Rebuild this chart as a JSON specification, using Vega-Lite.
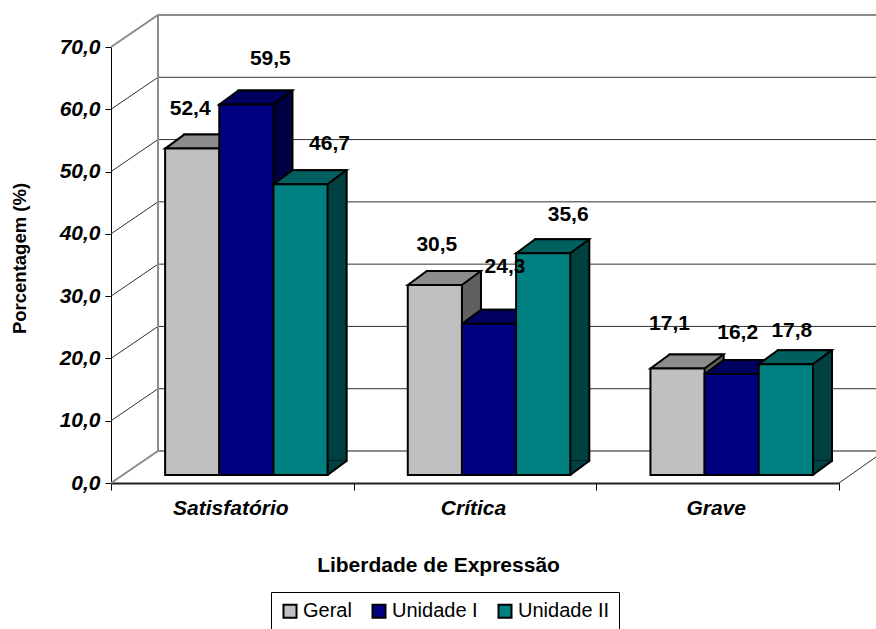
{
"$schema":"https://vega.github.io/schema/vega-lite/v6.json",
"width":728,"height":436,
"autosize":{"type":"none"},
"padding":{"left":111,"top":47,"right":37,"bottom":146},
"background":"white",
"config":{"view":{"stroke":null},"font":"Liberation Sans","locale":{"number":{"decimal":",","thousands":".","grouping":[3],"currency":["R$",""]}}},
"datasets":{
"bars":[
{"c":"Satisfatório","s":"Geral","v":52.4},
{"c":"Satisfatório","s":"Unidade I","v":59.5},
{"c":"Satisfatório","s":"Unidade II","v":46.7},
{"c":"Crítica","s":"Geral","v":30.5},
{"c":"Crítica","s":"Unidade I","v":24.3},
{"c":"Crítica","s":"Unidade II","v":35.6},
{"c":"Grave","s":"Geral","v":17.1},
{"c":"Grave","s":"Unidade I","v":16.2},
{"c":"Grave","s":"Unidade II","v":17.8}],
"grid":[{"t":10},{"t":20},{"t":30},{"t":40},{"t":50},{"t":60}],
"frame":[{"t":0},{"t":70}]
},
"resolve":{"scale":{"fill":"independent","xOffset":"independent"}},
"layer":[
{"data":{"name":"grid"},"mark":{"type":"point","shape":"M0,0L47,-32L765,-32","size":4,"filled":false,"opacity":1,"stroke":"#303030","strokeWidth":1},
"encoding":{"x":{"datum":"Satisfatório","bandPosition":0,"scale":{"domain":["Satisfatório","Crítica","Grave"],"paddingInner":0,"paddingOuter":0},
"axis":{"title":"Liberdade de Expressão","titleFontSize":21,"titleFontWeight":"bold","titleX":327,"titleY":82,"titleAnchor":"middle","titleBaseline":"middle","labelFontSize":21,"labelFontWeight":"bold","labelFontStyle":"italic","labelColor":"black","labelAngle":0,"labelPadding":7,"labelOffset":-2,"tickBand":"extent","tickSize":7,"tickColor":"black","domainColor":"#202020","domainWidth":2,"tickWidth":1,"titleColor":"black"}},
"y":{"field":"t","type":"quantitative","scale":{"domain":[0,70],"nice":false},
"axis":{"values":[0,10,20,30,40,50,60,70],"format":".1f","title":"Porcentagem (%)","grid":false,"titleFontSize":18.5,"titleFontWeight":"bold","titleX":-82,"titleY":211,"titleColor":"black","labelFontSize":21,"labelFontWeight":"bold","labelFontStyle":"italic","labelColor":"black","labelPadding":5,"tickSize":6,"tickColor":"black","domainColor":"black"}}}},
{"data":{"name":"frame"},"mark":{"type":"point","shape":"M0,0L47,-32L765,-32","size":4,"filled":false,"opacity":1,"stroke":"#8c8c8c","strokeWidth":2},
"encoding":{"x":{"datum":"Satisfatório","bandPosition":0},"y":{"field":"t","type":"quantitative"}}},
{"data":{"values":[{"t":0}]},"mark":{"type":"point","shape":"M47,-32L47,-468","size":4,"filled":false,"opacity":1,"stroke":"#8c8c8c","strokeWidth":2},
"encoding":{"x":{"datum":"Satisfatório","bandPosition":0},"y":{"field":"t","type":"quantitative"}}},
{"data":{"values":[{"t":0}]},"mark":{"type":"point","shape":"M0,0L37,-26","size":4,"filled":false,"opacity":1,"stroke":"#303030","strokeWidth":1},
"encoding":{"x":{"datum":"Grave","bandPosition":1},"y":{"field":"t","type":"quantitative"}}},
{"data":{"name":"bars"},"mark":{"type":"bar","yOffset":-22,"y2Offset":-22,"stroke":"black","strokeWidth":2},
"encoding":{"x":{"field":"c","type":"nominal","sort":null},"xOffset":{"field":"s","type":"nominal","scale":{"type":"band","domain":["Geral","Unidade I","Unidade II"],"paddingInner":0,"paddingOuter":0.74,"align":0.9125}},"y":{"field":"v","type":"quantitative"},
"fill":{"field":"s","type":"nominal","legend":null,"scale":{"domain":["Geral","Unidade I","Unidade II"],"range":["#606060","#000040","#004040"]}}}},
{"data":{"name":"bars"},"mark":{"type":"point","shape":"M27,0L27,-14L46,-14Z","size":4,"filled":true,"opacity":1,"yOffset":-8,"strokeWidth":1},
"encoding":{"x":{"field":"c","type":"nominal","sort":null},"xOffset":{"field":"s","type":"nominal","scale":{"type":"band","domain":["Geral","Unidade I","Unidade II"],"paddingInner":0,"paddingOuter":0.74,"align":0.675}},"y":{"datum":0,"type":"quantitative"},
"fill":{"field":"s","type":"nominal","legend":null,"scale":{"domain":["Geral","Unidade I","Unidade II"],"range":["#606060","#000040","#004040"]}},
"stroke":{"field":"s","type":"nominal","legend":null,"scale":{"domain":["Geral","Unidade I","Unidade II"],"range":["#606060","#000040","#004040"]}}}},
{"data":{"name":"bars"},"mark":{"type":"point","shape":"M27,0L46,-14","size":4,"filled":false,"opacity":1,"yOffset":-8,"stroke":"black","strokeWidth":2},
"encoding":{"x":{"field":"c","type":"nominal","sort":null},"xOffset":{"field":"s","type":"nominal","scale":{"type":"band","domain":["Geral","Unidade I","Unidade II"],"paddingInner":0,"paddingOuter":0.74,"align":0.675}},"y":{"datum":0,"type":"quantitative"}}},
{"data":{"name":"bars"},"mark":{"type":"point","shape":"M-27,0L27,0L46,-14L-8,-14Z","size":4,"filled":true,"opacity":1,"yOffset":-8,"stroke":"black","strokeWidth":2},
"encoding":{"x":{"field":"c","type":"nominal","sort":null},"xOffset":{"field":"s","type":"nominal","scale":{"type":"band","domain":["Geral","Unidade I","Unidade II"],"paddingInner":0,"paddingOuter":0.74,"align":0.675}},"y":{"field":"v","type":"quantitative"},
"fill":{"field":"s","type":"nominal","legend":null,"scale":{"domain":["Geral","Unidade I","Unidade II"],"range":["#8c8c8c","#000060","#006060"]}}}},
{"data":{"name":"bars"},"mark":{"type":"bar","yOffset":-8,"y2Offset":-8,"stroke":"black","strokeWidth":2},
"encoding":{"x":{"field":"c","type":"nominal","sort":null},"xOffset":{"field":"s","type":"nominal","scale":{"type":"band","domain":["Geral","Unidade I","Unidade II"],"paddingInner":0,"paddingOuter":0.74,"align":0.675}},"y":{"field":"v","type":"quantitative"},
"fill":{"field":"s","type":"nominal","scale":{"domain":["Geral","Unidade I","Unidade II"],"range":["#c0c0c0","#000080","#008080"]},
"legend":{"title":null,"orient":"none","direction":"horizontal","legendX":160,"legendY":545,"strokeColor":"black","fillColor":"white","padding":9,"symbolType":"square","symbolSize":169,"symbolStrokeColor":"black","symbolStrokeWidth":2,"labelFontSize":20,"labelColor":"black","labelFont":"Liberation Sans","columnPadding":16,"labelOffset":3,"labelLimit":200}}}},
{"data":{"name":"bars"},"transform":[{"filter":"datum.c=='Satisfatório'&&datum.s=='Geral'"}],"mark":{"type":"text","font":"Liberation Sans","fontWeight":"bold","fontSize":21,"baseline":"middle","color":"black","dx":-2,"yOffset":-48},"encoding":{"x":{"field":"c","type":"nominal","sort":null},"xOffset":{"field":"s","type":"nominal","scale":{"type":"band","domain":["Geral","Unidade I","Unidade II"],"paddingInner":0,"paddingOuter":0.74,"align":0.675}},"y":{"field":"v","type":"quantitative"},"text":{"field":"v","type":"quantitative","format":".1f"}}},
{"data":{"name":"bars"},"transform":[{"filter":"datum.c=='Satisfatório'&&datum.s=='Unidade I'"}],"mark":{"type":"text","font":"Liberation Sans","fontWeight":"bold","fontSize":21,"baseline":"middle","color":"black","dx":24,"yOffset":-53},"encoding":{"x":{"field":"c","type":"nominal","sort":null},"xOffset":{"field":"s","type":"nominal","scale":{"type":"band","domain":["Geral","Unidade I","Unidade II"],"paddingInner":0,"paddingOuter":0.74,"align":0.675}},"y":{"field":"v","type":"quantitative"},"text":{"field":"v","type":"quantitative","format":".1f"}}},
{"data":{"name":"bars"},"transform":[{"filter":"datum.c=='Satisfatório'&&datum.s=='Unidade II'"}],"mark":{"type":"text","font":"Liberation Sans","fontWeight":"bold","fontSize":21,"baseline":"middle","color":"black","dx":29,"yOffset":-48},"encoding":{"x":{"field":"c","type":"nominal","sort":null},"xOffset":{"field":"s","type":"nominal","scale":{"type":"band","domain":["Geral","Unidade I","Unidade II"],"paddingInner":0,"paddingOuter":0.74,"align":0.675}},"y":{"field":"v","type":"quantitative"},"text":{"field":"v","type":"quantitative","format":".1f"}}},
{"data":{"name":"bars"},"transform":[{"filter":"datum.c=='Crítica'&&datum.s=='Geral'"}],"mark":{"type":"text","font":"Liberation Sans","fontWeight":"bold","fontSize":21,"baseline":"middle","color":"black","dx":2,"yOffset":-48},"encoding":{"x":{"field":"c","type":"nominal","sort":null},"xOffset":{"field":"s","type":"nominal","scale":{"type":"band","domain":["Geral","Unidade I","Unidade II"],"paddingInner":0,"paddingOuter":0.74,"align":0.675}},"y":{"field":"v","type":"quantitative"},"text":{"field":"v","type":"quantitative","format":".1f"}}},
{"data":{"name":"bars"},"transform":[{"filter":"datum.c=='Crítica'&&datum.s=='Unidade I'"}],"mark":{"type":"text","font":"Liberation Sans","fontWeight":"bold","fontSize":21,"baseline":"middle","color":"black","dx":16,"yOffset":-65},"encoding":{"x":{"field":"c","type":"nominal","sort":null},"xOffset":{"field":"s","type":"nominal","scale":{"type":"band","domain":["Geral","Unidade I","Unidade II"],"paddingInner":0,"paddingOuter":0.74,"align":0.675}},"y":{"field":"v","type":"quantitative"},"text":{"field":"v","type":"quantitative","format":".1f"}}},
{"data":{"name":"bars"},"transform":[{"filter":"datum.c=='Crítica'&&datum.s=='Unidade II'"}],"mark":{"type":"text","font":"Liberation Sans","fontWeight":"bold","fontSize":21,"baseline":"middle","color":"black","dx":25,"yOffset":-46},"encoding":{"x":{"field":"c","type":"nominal","sort":null},"xOffset":{"field":"s","type":"nominal","scale":{"type":"band","domain":["Geral","Unidade I","Unidade II"],"paddingInner":0,"paddingOuter":0.74,"align":0.675}},"y":{"field":"v","type":"quantitative"},"text":{"field":"v","type":"quantitative","format":".1f"}}},
{"data":{"name":"bars"},"transform":[{"filter":"datum.c=='Grave'&&datum.s=='Geral'"}],"mark":{"type":"text","font":"Liberation Sans","fontWeight":"bold","fontSize":21,"baseline":"middle","color":"black","dx":-8,"yOffset":-52},"encoding":{"x":{"field":"c","type":"nominal","sort":null},"xOffset":{"field":"s","type":"nominal","scale":{"type":"band","domain":["Geral","Unidade I","Unidade II"],"paddingInner":0,"paddingOuter":0.74,"align":0.675}},"y":{"field":"v","type":"quantitative"},"text":{"field":"v","type":"quantitative","format":".1f"}}},
{"data":{"name":"bars"},"transform":[{"filter":"datum.c=='Grave'&&datum.s=='Unidade I'"}],"mark":{"type":"text","font":"Liberation Sans","fontWeight":"bold","fontSize":21,"baseline":"middle","color":"black","dx":6,"yOffset":-49},"encoding":{"x":{"field":"c","type":"nominal","sort":null},"xOffset":{"field":"s","type":"nominal","scale":{"type":"band","domain":["Geral","Unidade I","Unidade II"],"paddingInner":0,"paddingOuter":0.74,"align":0.675}},"y":{"field":"v","type":"quantitative"},"text":{"field":"v","type":"quantitative","format":".1f"}}},
{"data":{"name":"bars"},"transform":[{"filter":"datum.c=='Grave'&&datum.s=='Unidade II'"}],"mark":{"type":"text","font":"Liberation Sans","fontWeight":"bold","fontSize":21,"baseline":"middle","color":"black","dx":6,"yOffset":-41},"encoding":{"x":{"field":"c","type":"nominal","sort":null},"xOffset":{"field":"s","type":"nominal","scale":{"type":"band","domain":["Geral","Unidade I","Unidade II"],"paddingInner":0,"paddingOuter":0.74,"align":0.675}},"y":{"field":"v","type":"quantitative"},"text":{"field":"v","type":"quantitative","format":".1f"}}}
]
}
